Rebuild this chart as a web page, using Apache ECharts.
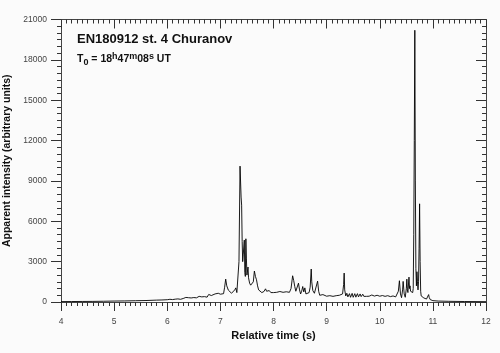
<!DOCTYPE html>
<html>
<head>
<meta charset="utf-8">
<script src="https://cdn.jsdelivr.net/npm/echarts@6/dist/echarts.min.js"></script>
</head>
<body style="margin:0;background:#fbfbfb">
<div id="main" style="width:500px;height:353px"></div>
<script>
// light curve (time in s, intensity in arbitrary units)
var times = [
  4.00, 4.20, 4.40, 4.60, 4.80, 5.00, 5.20, 5.40, 5.60, 5.80, 5.90, 6.00, 6.05, 6.10, 6.15, 6.20, 6.25, 6.30, 6.35, 6.40,
  6.45, 6.50, 6.55, 6.60, 6.65, 6.70, 6.75, 6.78, 6.80, 6.83, 6.86, 6.90, 6.93, 6.96, 7.00, 7.03, 7.06, 7.08, 7.10, 7.12,
  7.15, 7.18, 7.21, 7.24, 7.27, 7.29, 7.31, 7.33, 7.35, 7.37, 7.39, 7.40, 7.41, 7.42, 7.43, 7.45, 7.46, 7.47, 7.48, 7.49,
  7.50, 7.52, 7.53, 7.55, 7.57, 7.60, 7.62, 7.64, 7.66, 7.68, 7.70, 7.72, 7.75, 7.78, 7.80, 7.82, 7.85, 7.87, 7.90, 7.92,
  7.95, 7.98, 8.00, 8.03, 8.06, 8.09, 8.12, 8.15, 8.18, 8.21, 8.24, 8.27, 8.30, 8.33, 8.36, 8.38, 8.40, 8.42, 8.45, 8.47,
  8.49, 8.51, 8.53, 8.55, 8.57, 8.59, 8.61, 8.64, 8.67, 8.69, 8.71, 8.72, 8.74, 8.77, 8.80, 8.83, 8.85, 8.87, 8.90, 8.93,
  8.96, 9.00, 9.03, 9.06, 9.09, 9.12, 9.15, 9.18, 9.21, 9.24, 9.27, 9.30, 9.32, 9.33, 9.34, 9.36, 9.38, 9.40, 9.43, 9.45,
  9.48, 9.50, 9.53, 9.55, 9.58, 9.60, 9.63, 9.65, 9.68, 9.70, 9.73, 9.75, 9.78, 9.80, 9.85, 9.90, 9.95, 10.00, 10.05, 10.10,
  10.15, 10.20, 10.25, 10.30, 10.33, 10.35, 10.37, 10.39, 10.41, 10.43, 10.44, 10.46, 10.48, 10.50, 10.51, 10.52, 10.53, 10.55, 10.56, 10.57,
  10.58, 10.60, 10.62, 10.63, 10.64, 10.65, 10.66, 10.67, 10.68, 10.69, 10.70, 10.71, 10.72, 10.73, 10.74, 10.75, 10.76, 10.77, 10.78, 10.80,
  10.83, 10.86, 10.88, 10.90, 10.92, 10.93, 10.95, 10.98, 11.00, 11.10, 11.30, 11.60, 12.00
];
var intensity = [
  30, 35, 40, 45, 55, 70, 80, 95, 110, 140, 150, 170, 200, 180, 210, 230, 200, 260, 340, 320,
  300, 330, 310, 420, 380, 400, 360, 560, 680, 480, 420, 600, 520, 650, 580, 700, 620, 1100, 1700, 1200,
  880, 750, 650, 600, 900, 1050, 700, 560, 3000, 10100, 7800, 7200, 4500, 3000, 3500, 4600, 2200, 1900, 4700, 3200,
  2000, 2600, 1800, 1400, 1250, 1150, 1500, 2300, 1900, 1650, 1200, 900, 800, 700, 650, 780, 980, 800, 720, 850,
  700, 650, 700, 620, 720, 650, 780, 900, 720, 680, 760, 680, 720, 1000, 1950, 1600, 1150, 800, 700, 1400,
  900, 600, 800, 1150, 750, 1050, 600, 550, 700, 1100, 2450, 1500, 850, 650, 550, 1550, 800, 500, 450, 550,
  420, 430, 520, 470, 600, 420, 380, 470, 350, 500, 450, 600, 1300, 2150, 900, 450, 650, 380, 620, 350,
  640, 350, 620, 360, 620, 380, 600, 400, 580, 420, 560, 420, 540, 430, 520, 440, 500, 430, 480, 420,
  470, 400, 450, 380, 420, 800, 1580, 600, 320, 900, 1530, 600, 350, 1000, 1700, 900, 700, 1850, 1000, 1200,
  800, 900, 700, 1000, 5000, 12000, 20200, 9000, 2500, 1200, 2250, 1500, 900, 1500, 4000, 7300, 3000, 800, 450, 350,
  300, 250, 220, 300, 550, 350, 180, 130, 100, 70, 50, 35, 25
];

var curve = times.map(function (t, i) { return [t, intensity[i]]; });

var fam = 'Liberation Sans, Arial, sans-serif';
var tickGrey = '#333';
var box = { left: 61, right: 14, top: 19.5, bottom: 51, outerBoundsMode: 'none' };

// tick-only axis for the frame grid (grid 1), which holds no series
function tickAxis(kind, pos, inside) {
  var isX = kind === 'x';
  return {
    type: 'value', gridIndex: 1, position: pos,
    min: isX ? 4 : 0, max: isX ? 12 : 21000, interval: isX ? 1 : 3000,
    axisLine: { show: true, onZero: false, lineStyle: { color: '#444', width: 1 } },
    axisTick: { show: true, inside: inside, length: isX ? 9 : 10, lineStyle: { color: tickGrey, width: 1 } },
    minorTick: { show: true, splitNumber: isX ? 10 : 6, length: 4, lineStyle: { color: tickGrey, width: 1 } },
    axisLabel: { show: false },
    splitLine: { show: false }
  };
}

var chart = echarts.init(document.getElementById('main'));
chart.setOption({
  animation: false,
  backgroundColor: '#fbfbfb',
  title: {
    left: 72, top: 28,
    text: 'EN180912 st. 4 Churanov',
    textStyle: { fontSize: 13, fontWeight: 'bold', color: '#111', fontFamily: fam },
    subtext: '{b|T}{sub|0}{b| = 18}{sup|h}{b|47}{sup|m}{b|08}{sup|s}{b| UT}',
    itemGap: 6,
    subtextStyle: {
      fontFamily: fam,
      rich: {
        b: { fontSize: 10.5, fontWeight: 'bold', color: '#111' },
        sub: { fontSize: 9, fontWeight: 'bold', color: '#111', verticalAlign: 'bottom', padding: [5, 0, 0, 0] },
        sup: { fontSize: 9, fontWeight: 'bold', color: '#111', verticalAlign: 'top', padding: [0, 0, 6, 0] }
      }
    }
  },
  grid: [box, box],
  xAxis: [
    { type: 'value', gridIndex: 0, min: 4, max: 12, interval: 1, position: 'bottom',
      name: 'Relative time (s)', nameLocation: 'middle', nameGap: 25,
      nameTextStyle: { fontSize: 11, fontWeight: 'bold', color: '#111', fontFamily: fam },
      axisLine: { show: false, onZero: false },
      axisTick: { show: false },
      axisLabel: { margin: 15, color: '#444', fontSize: 8.5, fontFamily: fam },
      splitLine: { show: false } },
    tickAxis('x', 'bottom', false),
    tickAxis('x', 'top', true)
  ],
  yAxis: [
    { type: 'value', gridIndex: 0, min: 0, max: 21000, interval: 3000, position: 'left',
      name: 'Apparent intensity (arbitrary units)', nameLocation: 'middle', nameGap: 39,
      nameTextStyle: { fontSize: 10.5, fontWeight: 'bold', color: '#111', fontFamily: fam },
      axisLine: { show: false, onZero: false },
      axisTick: { show: false },
      axisLabel: { margin: 14, color: '#444', fontSize: 8.5, fontFamily: fam, formatter: function (v) { return String(v); } },
      splitLine: { show: false } },
    tickAxis('y', 'left', false),
    tickAxis('y', 'right', true)
  ],
  series: [{
    type: 'line', xAxisIndex: 0, yAxisIndex: 0,
    data: curve,
    showSymbol: false, symbol: 'none',
    lineStyle: { color: '#000', width: 0.9 }
  }]
});
</script>
</body>
</html>
